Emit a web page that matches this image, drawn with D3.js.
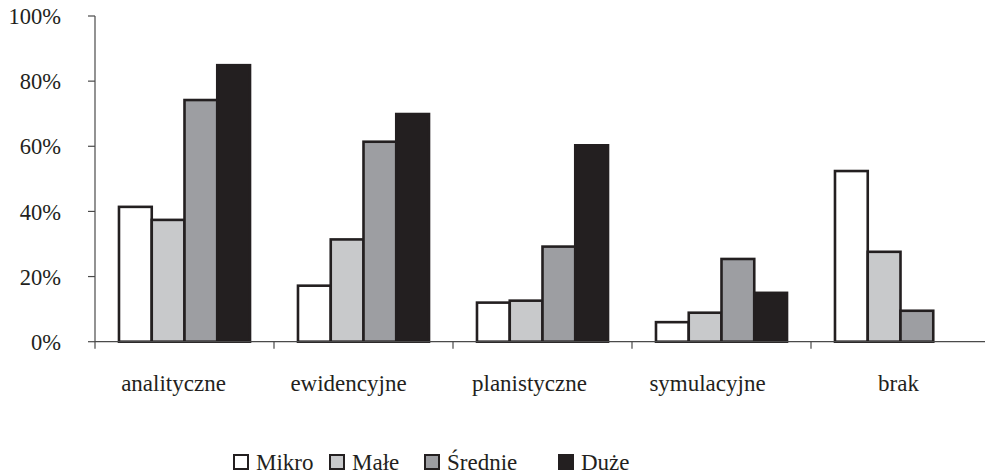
<!DOCTYPE html>
<html>
<head>
<meta charset="utf-8">
<script src="https://cdn.jsdelivr.net/npm/d3@7/dist/d3.min.js"></script>
<style>
  html, body { margin: 0; padding: 0; background: #fff; }
  svg { display: block; }
  text { font-family: "Liberation Serif", "DejaVu Serif", serif; fill: #231f20; }
</style>
</head>
<body>
<svg id="chart" width="985" height="474"></svg>
<script>
// ---- data ----
const categories = ["analityczne", "ewidencyjne", "planistyczne", "symulacyjne", "brak"];
const seriesNames = ["Mikro", "Małe", "Średnie", "Duże"];
const mikro   = [41.4, 17.2, 12.0, 6.0, 52.4];
const male    = [37.4, 31.4, 12.6, 8.9, 27.6];
const srednie = [74.2, 61.4, 29.2, 25.4, 9.5];
const duze    = [84.9, 69.9, 60.3, 15.0, 0];
const yTicks  = [0, 20, 40, 60, 80, 100];
const yTickLabels = ["0%", "20%", "40%", "60%", "80%", "100%"];

// ---- styles / layout ----
const fills = ["#ffffff", "#c8c9cb", "#9d9ea2", "#231f20"];
const dark = "#231f20";
const axisColor = "#4a4a4a";
const labelNudge = [-11, -15, -13, -14, -2];
const legendX = [237, 333, 428, 562];

const seriesValues = [mikro, male, srednie, duze];
const table = categories.map((c, i) => ({
  cat: c,
  vals: seriesNames.map((s, j) => ({ s, j, v: seriesValues[j][i] }))
}));

const svg = d3.select("#chart");

const pad = 0.268;
const x0 = d3.scaleBand().domain(categories).range([95, 990])
  .paddingInner(pad).paddingOuter(pad / 2);
const x1 = d3.scaleBand().domain(seriesNames).range([0, x0.bandwidth()]);
const y = d3.scaleLinear().domain([0, 100]).range([341.7, 16]);

// y axis
const yAxis = svg.append("g");
yAxis.append("line")
  .attr("x1", x0.range()[0]).attr("x2", x0.range()[0])
  .attr("y1", y(100)).attr("y2", y(0) + 7)
  .attr("stroke", axisColor).attr("stroke-width", 1.2);
yAxis.selectAll("line.tick").data(yTicks).enter().append("line")
  .attr("class", "tick")
  .attr("x1", x0.range()[0] - 7).attr("x2", x0.range()[0])
  .attr("y1", d => y(d)).attr("y2", d => y(d))
  .attr("stroke", axisColor).attr("stroke-width", 1.2);
yAxis.selectAll("text").data(yTicks).enter().append("text")
  .attr("x", 61).attr("y", d => y(d)).attr("dy", "0.36em")
  .attr("text-anchor", "end").attr("font-size", 22.5)
  .text((d, i) => yTickLabels[i]);

// bars
const groups = svg.append("g").selectAll("g").data(table).enter().append("g")
  .attr("transform", d => `translate(${x0(d.cat)},0)`);
groups.selectAll("rect").data(d => d.vals.filter(v => v.v > 0)).enter().append("rect")
  .attr("x", d => x1(d.s))
  .attr("y", d => y(d.v))
  .attr("width", x1.bandwidth())
  .attr("height", d => y(0) - y(d.v))
  .attr("fill", d => fills[d.j])
  .attr("stroke", dark)
  .attr("stroke-width", 2.6);

// x axis
const step = x0.step();
const xAxis = svg.append("g");
xAxis.append("line")
  .attr("x1", x0.range()[0]).attr("x2", x0.range()[1])
  .attr("y1", y(0)).attr("y2", y(0))
  .attr("stroke", axisColor).attr("stroke-width", 1.2);
xAxis.selectAll("line.tick").data(categories.slice(1)).enter().append("line")
  .attr("class", "tick")
  .attr("x1", d => x0(d) - step * pad / 2).attr("x2", d => x0(d) - step * pad / 2)
  .attr("y1", y(0)).attr("y2", y(0) + 7)
  .attr("stroke", axisColor).attr("stroke-width", 1.2);
xAxis.selectAll("text").data(categories).enter().append("text")
  .attr("x", (d, i) => x0(d) + x0.bandwidth() / 2 + labelNudge[i])
  .attr("y", 391)
  .attr("text-anchor", "middle").attr("font-size", 23)
  .text(d => d);

// legend
const legend = svg.append("g").selectAll("g").data(seriesNames).enter().append("g")
  .attr("transform", (d, j) => `translate(${legendX[j]},0)`);
legend.append("rect")
  .attr("x", -3).attr("y", 455).attr("width", 14).attr("height", 14)
  .attr("fill", (d, j) => fills[j]).attr("stroke", dark).attr("stroke-width", 2);
legend.append("text")
  .attr("x", 19).attr("y", 470)
  .attr("font-size", 23).text(d => d);
</script>
</body>
</html>
